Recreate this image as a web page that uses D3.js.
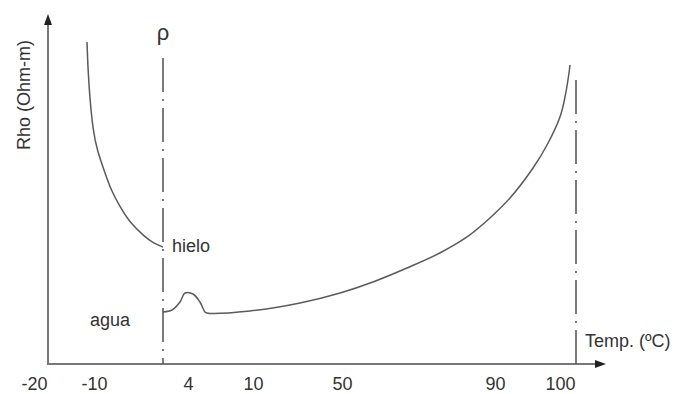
<!DOCTYPE html>
<html>
<head>
<meta charset="utf-8">
<script src="https://cdn.jsdelivr.net/npm/d3@7"></script>
<style>
  html, body { margin: 0; padding: 0; background: #fff; }
  svg { display: block; }
  text { font-family: "Liberation Sans", Arial, sans-serif; fill: #333; }
</style>
</head>
<body>
<svg id="chart" width="676" height="394"></svg>
<script>
// Temperature ticks shown on the horizontal axis (°C)
const tempTicks = [-20, -10, 4, 10, 50, 90, 100];

// Phase-change temperatures marked by dash-dot lines
const phaseLines = [0, 100];

// Resistivity of ice below freezing (temperature °C, relative rho)
const iceTemp = [-13.5, -13.33, -13.0, -12.5, -11.83, -10.5, -9.45, -7.82, -6.0, -3.27, -1.82, 0];
const iceRho  = [92.0, 84.0, 75.4, 66.9, 61.1, 54.6, 49.7, 44.9, 40.3, 36.3, 34.6, 33.4];

// Resistivity of liquid water up to boiling (temperature °C, relative rho)
const waterTemp = [0, 1.16, 2.19, 2.84, 3.87, 4.51, 4.94, 5.11, 8.8, 26.2, 44.2, 55.2, 64.1, 72.7, 79.8, 85.8, 90.57, 93.86, 95.86, 97.71, 98.43, 99.0, 99.14];
const waterRho  = [14.86, 15.43, 17.71, 20.29, 20.0, 17.71, 14.86, 14.57, 15.14, 17.43, 20.29, 23.43, 27.43, 31.71, 36.29, 41.71, 47.43, 56.0, 62.57, 70.57, 76.29, 83.14, 85.43];

const svg = d3.select("#chart");

// Non-uniform (schematic) temperature axis: piecewise linear
const x = d3.scaleLinear()
  .domain([-20, -10, 0, 4, 10, 50, 90, 100])
  .range([48, 108, 163, 194, 264, 353, 506, 576]);

const y = d3.scaleLinear().domain([0, 100]).range([364, 14]);

const axisColor = "#777";
const lineColor = "#5a5a5a";
const x0 = x(-20), yBase = y(0);

// Axes with arrow heads
svg.append("line")
  .attr("x1", x0).attr("y1", yBase).attr("x2", x0).attr("y2", y(100) + 8)
  .attr("stroke", axisColor).attr("stroke-width", 2);
svg.append("line")
  .attr("x1", x0 - 1).attr("y1", yBase).attr("x2", 597).attr("y2", yBase)
  .attr("stroke", axisColor).attr("stroke-width", 2);
svg.append("path")
  .attr("d", `M${x0 - 4},${y(100) + 11} L${x0},${y(100)} L${x0 + 4},${y(100) + 11} Z`)
  .attr("fill", "#222");
svg.append("path")
  .attr("d", `M595,${yBase - 4} L606,${yBase} L595,${yBase + 4} Z`)
  .attr("fill", "#222");

// Tick labels
const xAxis = d3.axisBottom(x).tickValues(tempTicks).tickSize(0).tickPadding(0).tickFormat(d => String(d));
const gx = svg.append("g").attr("transform", `translate(0,${yBase})`).call(xAxis);
gx.select(".domain").remove();
gx.selectAll("text")
  .attr("text-anchor", "end")
  .attr("x", -1)
  .attr("dy", null)
  .attr("y", 26)
  .style("font-size", "18px")
  .style("font-family", "'Liberation Sans', Arial, sans-serif")
  .attr("fill", "#333");

// Dash-dot phase boundary lines
const lineTops = [58, 80];
svg.selectAll("line.phase")
  .data(phaseLines)
  .join("line")
  .attr("class", "phase")
  .attr("x1", d => x(d)).attr("x2", d => x(d))
  .attr("y1", (d, i) => lineTops[i]).attr("y2", yBase)
  .attr("stroke", lineColor).attr("stroke-width", 1.6)
  .attr("stroke-dasharray", "34,7,2,7");

// Resistivity curves
const iceLine = d3.line()
  .x(d => x(d[0]))
  .y(d => y(d[1]))
  .curve(d3.curveBasis);

const waterLine = d3.line()
  .x(d => x(d[0]))
  .y(d => y(d[1]))
  .curve(d3.curveCatmullRom.alpha(0.5));

svg.append("path")
  .datum(d3.zip(iceTemp, iceRho))
  .attr("d", iceLine)
  .attr("fill", "none").attr("stroke", lineColor).attr("stroke-width", 1.5);

svg.append("path")
  .datum(d3.zip(waterTemp, waterRho))
  .attr("d", waterLine)
  .attr("fill", "none").attr("stroke", lineColor).attr("stroke-width", 1.5);

// Labels
svg.append("text").attr("x", x(0)).attr("y", 40).attr("text-anchor", "middle")
  .style("font-size", "22px").text("ρ");
svg.append("text").attr("x", 172).attr("y", 252).style("font-size", "18px").text("hielo");
svg.append("text").attr("x", 90).attr("y", 326).style("font-size", "18px").text("agua");
svg.append("text").attr("x", 585).attr("y", 347).style("font-size", "18px").text("Temp. (ºC)");
svg.append("text")
  .attr("transform", "translate(30,95) rotate(-90)")
  .attr("text-anchor", "middle")
  .style("font-size", "18px")
  .text("Rho (Ohm-m)");
</script>
</body>
</html>
